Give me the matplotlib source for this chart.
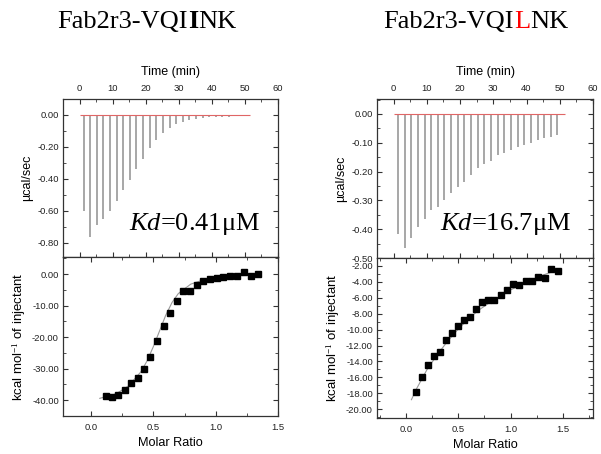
import numpy as np
import matplotlib
matplotlib.use("Agg")
import matplotlib.pyplot as plt
from matplotlib.ticker import MultipleLocator, FormatStrFormatter

plt.rcParams['font.family'] = ['Liberation Sans', 'DejaVu Sans']
plt.rcParams['mathtext.fontset'] = 'custom'
plt.rcParams['mathtext.rm'] = 'Liberation Serif'
plt.rcParams['mathtext.it'] = 'Liberation Serif:italic'

# ---- raw thermograms (injection time in min, peak depth in ucal/sec) ----
inj_time_a = np.arange(25) * 2.0 + 1.2
peak_a = [-0.60, -0.765, -0.69, -0.65, -0.60, -0.54, -0.47, -0.41, -0.34, -0.275,
          -0.21, -0.157, -0.111, -0.08, -0.057, -0.042, -0.031, -0.025, -0.019,
          -0.015, -0.012, -0.010, -0.010, -0.008, -0.008]

inj_time_b = np.arange(25) * 2.0 + 1.3
peak_b = [-0.415, -0.464, -0.432, -0.392, -0.366, -0.334, -0.322, -0.299, -0.274,
          -0.253, -0.235, -0.212, -0.189, -0.172, -0.163, -0.143, -0.137, -0.125,
          -0.116, -0.106, -0.100, -0.090, -0.085, -0.079, -0.073]

# ---- integrated heats ----
ratio_a = [0.120, 0.171, 0.219, 0.273, 0.321, 0.374, 0.425, 0.473, 0.527, 0.583,
           0.634, 0.687, 0.738, 0.794, 0.848, 0.901, 0.954, 1.008, 1.061, 1.115,
           1.168, 1.227, 1.281, 1.337]
heat_a = [-38.7, -38.9, -38.4, -36.8, -34.4, -32.9, -30.1, -26.3, -21.2, -16.6,
          -12.3, -8.7, -5.3, -5.4, -3.5, -2.3, -1.6, -1.2, -1.0, -0.5, -0.5, 0.6,
          -0.6, 0.0]
fit_x_a = [0.07, 0.2, 0.3, 0.4, 0.45, 0.5, 0.55, 0.6, 0.65, 0.7, 0.8, 0.9, 1.0,
           1.1, 1.2, 1.34]
fit_y_a = [-39.4, -38.0, -35.5, -31.0, -27.5, -23.0, -18.0, -13.0, -9.0, -6.2,
           -3.2, -1.9, -1.2, -0.8, -0.5, -0.3]

ratio_b = [0.096, 0.153, 0.210, 0.264, 0.321, 0.379, 0.436, 0.494, 0.551, 0.611,
           0.669, 0.729, 0.786, 0.844, 0.907, 0.965, 1.025, 1.082, 1.146, 1.206,
           1.267, 1.327, 1.392, 1.452]
heat_b = [-17.83, -15.94, -14.47, -13.29, -12.83, -11.32, -10.48, -9.60, -8.84,
          -8.40, -7.39, -6.58, -6.26, -6.26, -5.63, -5.00, -4.24, -4.37, -3.86,
          -3.90, -3.36, -3.49, -2.38, -2.63]
fit_x_b = [0.05, 0.1, 0.2, 0.3, 0.4, 0.5, 0.6, 0.7, 0.8, 0.9, 1.0, 1.1, 1.2, 1.3,
           1.45]
fit_y_b = [-18.8, -17.4, -15.0, -13.1, -11.4, -9.9, -8.6, -7.5, -6.6, -5.8, -5.0,
           -4.4, -3.8, -3.2, -2.5]

FIG_W, FIG_H = 601, 454
fig = plt.figure(figsize=(FIG_W / 100, FIG_H / 100), dpi=100)


def frac(x0, y0, x1, y1):
    return [x0 / FIG_W, 1 - y1 / FIG_H, (x1 - x0) / FIG_W, (y1 - y0) / FIG_H]


def style(ax):
    for s in ax.spines.values():
        s.set_color('#333333')
        s.set_linewidth(0.9)
    ax.tick_params(which='both', direction='in', top=True, right=True,
                   labelsize=6.8, color='#333333', pad=3, labelcolor='#222222')
    ax.tick_params(which='major', length=3.5, width=0.8)
    ax.tick_params(which='minor', length=2, width=0.6)


def panel(x0, x1, y_mid, y_top, y_bot, t, peaks, top_ylim, top_major,
          r, h, fx, fy, bot_ylim, bot_major, ratio_xlim, kd, kd_pos):
    ax1 = fig.add_axes(frac(x0, y_top, x1, y_mid))
    ax2 = fig.add_axes(frac(x0, y_mid, x1, y_bot))
    style(ax1)
    style(ax2)

    ax1.hlines(0, 0.2, 51.5, color='#e06666', lw=0.8, zorder=3)
    ax1.vlines(t, peaks, 0, color='#909090', lw=1.1)
    ax1.set_xlim(-5, 60)
    ax1.set_ylim(*top_ylim)
    ax1.xaxis.set_major_locator(MultipleLocator(10))
    ax1.xaxis.set_minor_locator(MultipleLocator(5))
    ax1.yaxis.set_major_locator(MultipleLocator(top_major))
    ax1.yaxis.set_minor_locator(MultipleLocator(top_major / 2))
    ax1.yaxis.set_major_formatter(FormatStrFormatter('%.2f'))
    ax1.tick_params(axis='x', labeltop=True, labelbottom=False, pad=4)
    ax1.xaxis.set_label_position('top')
    ax1.set_xlabel('Time (min)', fontsize=9, labelpad=7)
    ax1.set_ylabel('µcal/sec', fontsize=9, labelpad=3)
    ax1.text(kd_pos[0], kd_pos[1], kd, transform=ax1.transAxes,
             ha='right', va='baseline', fontsize=19, family='Liberation Serif')

    ax2.plot(fx, fy, color='#999999', lw=0.8)
    ax2.plot(r, h, 's', color='black', ms=4.3)
    ax2.set_xlim(*ratio_xlim)
    ax2.set_ylim(*bot_ylim)
    ax2.xaxis.set_major_locator(MultipleLocator(0.5))
    ax2.xaxis.set_minor_locator(MultipleLocator(0.25))
    ax2.xaxis.set_major_formatter(FormatStrFormatter('%.1f'))
    ax2.yaxis.set_major_locator(MultipleLocator(bot_major))
    ax2.yaxis.set_minor_locator(MultipleLocator(bot_major / 2))
    ax2.yaxis.set_major_formatter(FormatStrFormatter('%.2f'))
    ax2.tick_params(axis='x', pad=5)
    ax2.set_xlabel('Molar Ratio', fontsize=9.2, labelpad=4)
    ax2.set_ylabel('kcal mol$^{-1}$ of injectant', fontsize=9.5, labelpad=3)
    return ax1, ax2


panel(63, 278, 257, 99, 416, inj_time_a, peak_a, (-0.89, 0.1), 0.2,
      ratio_a, heat_a, fit_x_a, fit_y_a, (-45, 5.4), 10, (-0.225, 1.5),
      r'$\mathit{Kd}$=0.41μM', (0.916, 0.171))
panel(377, 593, 258, 99, 418, inj_time_b, peak_b, (-0.5, 0.052), 0.1,
      ratio_b, heat_b, fit_x_b, fit_y_b, (-21.1, -1.0), 2, (-0.28, 1.79),
      r'$\mathit{Kd}$=16.7μM', (0.898, 0.176))


def rich_title(cx, base_y, parts, size=19):
    # parts: list of (text, weight, color); centred on cx (pixels)
    fig.canvas.draw()
    rend = fig.canvas.get_renderer()
    texts = []
    for s, w, c in parts:
        t = fig.text(0, 1 - base_y / FIG_H, s, fontsize=size, weight=w, color=c,
                     family='Liberation Serif', va='baseline')
        texts.append(t)
    widths = [t.get_window_extent(rend).width for t in texts]
    x = cx - sum(widths) / 2
    for t, w in zip(texts, widths):
        t.set_x(x / FIG_W)
        x += w


rich_title(147, 28, [('Fab2r3-VQI', 'normal', 'black'), ('I', 'bold', 'black'),
                     ('NK', 'normal', 'black')])
rich_title(476, 28, [('Fab2r3-VQI', 'normal', 'black'), ('L', 'normal', '#ff0000'),
                     ('NK', 'normal', 'black')])

fig.savefig('out.png', dpi=100)
